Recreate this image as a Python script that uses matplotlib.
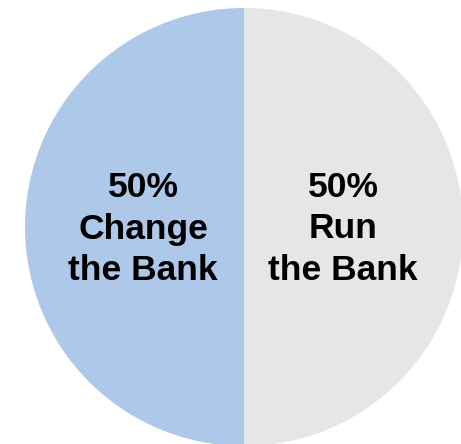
import matplotlib.pyplot as plt

shares = [50, 50]
labels = ['50%\nChange\nthe Bank', '50%\nRun\nthe Bank']
colors = ['#aec8e9', '#e6e6e8']

fig = plt.figure(figsize=(4.61, 4.44), dpi=100)
ax = fig.add_axes([0, 0, 1, 1])

cx, cy, r = 244, 217, 219
wedges, _ = ax.pie(shares, colors=colors, startangle=90, counterclock=True,
                   center=(cx, cy), radius=r, frame=True)
ax.set_xlim(0, 461)
ax.set_ylim(0, 444)
ax.set_aspect('equal')
ax.axis('off')

# labels in the middle of each half
for lab, x in zip(labels, [cx - 101, cx + 99]):
    ax.text(x, cy - 2, lab, ha='center', va='center', fontsize=25.5,
            fontweight='bold', family=['Liberation Sans', 'DejaVu Sans'],
            linespacing=1.34, color='black')

plt.savefig('out.png', dpi=100)
